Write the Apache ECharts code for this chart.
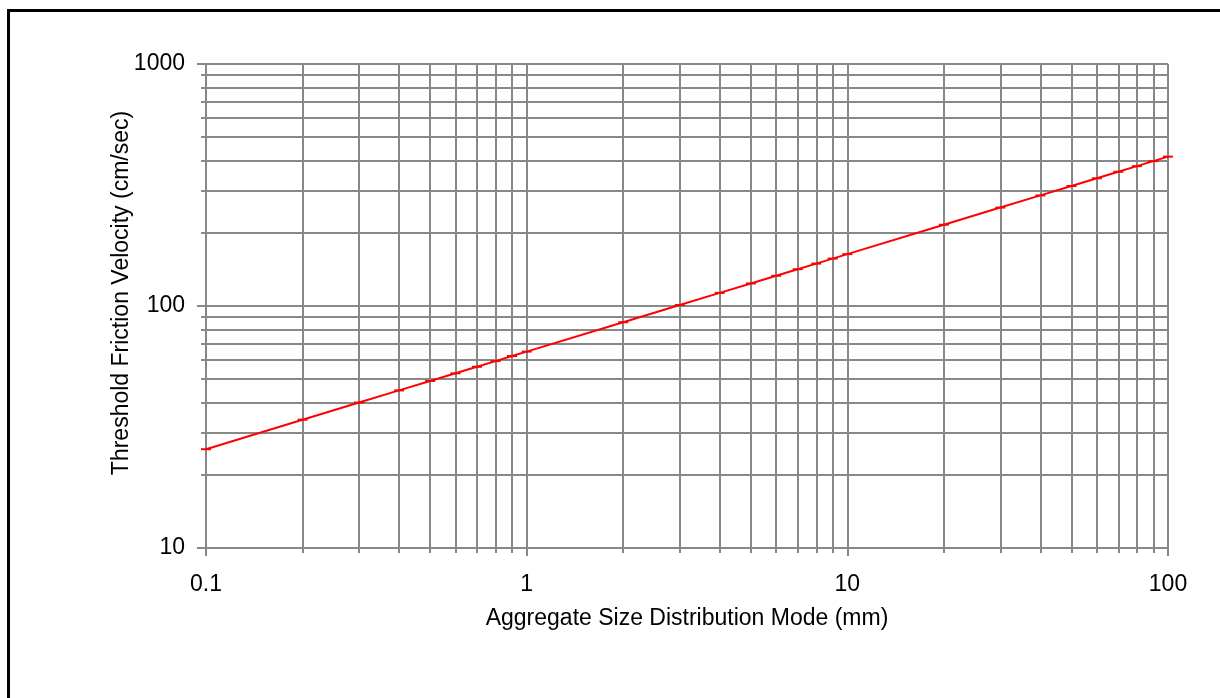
<!DOCTYPE html>
<html>
<head>
<meta charset="utf-8">
<script src="https://cdn.jsdelivr.net/npm/echarts@6/dist/echarts.min.js"></script>
<style>
  body { margin: 0; background: #fff; }
  #wrap { position: relative; width: 1220px; height: 698px; overflow: hidden; }
  #chart { width: 1220px; height: 698px; }
  #frame { position: absolute; left: 7px; top: 9px; width: 2000px; height: 2000px;
           border-top: 3px solid #000; border-left: 3px solid #000; pointer-events: none; }
</style>
</head>
<body>
<div id="wrap">
  <div id="chart"></div>
  <div id="frame"></div>
</div>
<script>
// mode size (mm) and threshold friction velocity (cm/sec)
const sizes = [0.1, 0.2, 0.3, 0.4, 0.5, 0.6, 0.7, 0.8, 0.9,
  1, 2, 3, 4, 5, 6, 7, 8, 9,
  10, 20, 30, 40, 50, 60, 70, 80, 90, 100];
const velocity = [25.6, 33.9, 39.9, 44.8, 49.0, 52.7, 56.1, 59.2, 62.1,
  64.8, 85.7, 100.9, 113.3, 123.9, 133.3, 141.9, 149.7, 157.0,
  163.8, 216.7, 255.1, 286.4, 313.2, 337.0, 358.7, 378.4, 396.9, 414.2];

const xMajor = [0.1, 1, 10, 100];
const xAll = sizes;
const yMajor = [10, 100, 1000];
const yAll = [10, 20, 30, 40, 50, 60, 70, 80, 90,
  100, 200, 300, 400, 500, 600, 700, 800, 900, 1000];

const gray = '#888888';
const font = 'Liberation Sans, Arial, sans-serif';
const fs = 23;

let myChart = echarts.init(document.getElementById('chart'));

let gridLine = { show: true, lineStyle: { color: gray, width: 2 } };
let plain = (v) => String(v);

let option = {
  animation: false,
  grid: { left: 206, right: 52, top: 64, bottom: 150, containLabel: false },
  xAxis: [
    {
      type: 'log',
      logBase: 10,
      min: 0.1,
      max: 100,
      position: 'bottom',
      name: 'Aggregate Size Distribution Mode (mm)',
      nameLocation: 'middle',
      nameGap: 59,
      nameTextStyle: { fontSize: fs, fontFamily: font, color: '#000' },
      axisLine: { show: true, lineStyle: { color: gray, width: 2 } },
      axisTick: { show: true, customValues: xAll, length: 5, lineStyle: { color: gray, width: 2 } },
      axisLabel: { customValues: xMajor, formatter: plain, fontSize: fs, fontFamily: font, color: '#000', margin: 25 },
      splitLine: gridLine
    },
    {
      type: 'log',
      logBase: 10,
      min: 0.1,
      max: 100,
      position: 'bottom',
      axisLine: { show: false },
      axisTick: { show: true, customValues: xMajor, length: 8, lineStyle: { color: gray, width: 2 } },
      axisLabel: { show: false },
      splitLine: { show: false }
    }
  ],
  yAxis: [
    {
      type: 'log',
      logBase: 10,
      min: 10,
      max: 1000,
      position: 'left',
      name: 'Threshold Friction Velocity (cm/sec)',
      nameLocation: 'middle',
      nameGap: 73,
      nameMoveOverlap: false,
      nameTextStyle: { fontSize: fs, fontFamily: font, color: '#000', padding: [0, 0, 0, 26] },
      axisLine: { show: true, lineStyle: { color: gray, width: 2 } },
      axisTick: { show: true, customValues: yAll, length: 5, lineStyle: { color: gray, width: 2 } },
      axisLabel: { customValues: yMajor, formatter: plain, fontSize: fs, fontFamily: font, color: '#000', margin: 21 },
      splitLine: gridLine
    },
    {
      type: 'log',
      logBase: 10,
      min: 10,
      max: 1000,
      position: 'left',
      axisLine: { show: false },
      axisTick: { show: true, customValues: yMajor, length: 9, lineStyle: { color: gray, width: 2 } },
      axisLabel: { show: false },
      splitLine: { show: false }
    }
  ],
  series: [
    {
      type: 'line',
      xAxisIndex: 0,
      yAxisIndex: 0,
      data: sizes.map((s, i) => [s, velocity[i]]),
      symbol: 'rect',
      symbolSize: [10, 2],
      showSymbol: true,
      clip: false,
      itemStyle: { color: '#ff0000' },
      lineStyle: { color: '#ff0000', width: 2 }
    }
  ]
};
myChart.setOption(option);
</script>
</body>
</html>
